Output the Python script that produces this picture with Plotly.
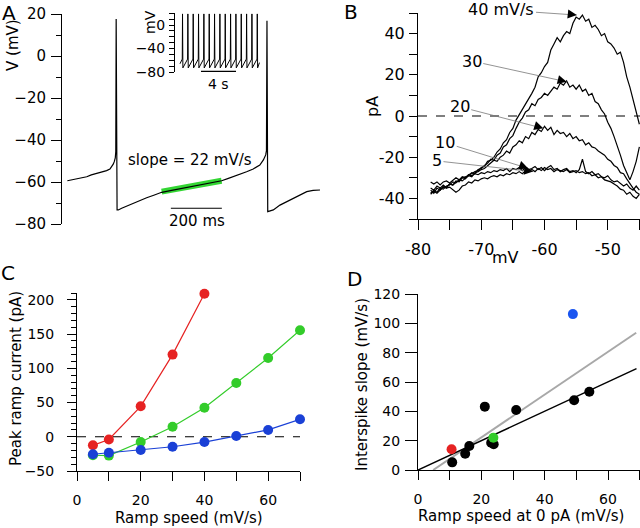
import plotly.graph_objects as go

W, H = 640, 528
FONT = "DejaVu Sans"


def px(x):
    return x / W


def py(y):
    return 1 - y / H


# ---------------- Panel A: membrane potential (ms, mV) ----------------
a_t = [21, 40, 58, 75, 97, 115, 136, 155, 175, 188, 195, 201, 205, 209, 211, 212.5, 216,
       221, 234, 255, 280, 305, 332, 360, 391, 430, 470, 510, 550, 590, 626, 650, 672,
       700, 724, 750, 776, 790, 799, 802, 804, 807, 812, 829, 855, 880, 907, 935, 960,
       985, 1012]
a_v = [-59.4, -58.9, -58.2, -58.0, -57.5, -56.6, -55.9, -55.5, -54.6, -53.8, -52.7, -51.5,
       -50.3, -48.5, -45.5, 17.6, -73.3,
       -73.3, -72.5, -71.4, -70.1, -68.9, -67.5, -66.3, -64.9, -64.0, -63.0, -62.1, -61.2,
       -60.3, -59.4, -58.4, -57.5,
       -56.4, -55.1, -53.8, -51.9, -49.5, -47.1, -45.0, 16.8, -74.1, -74.0, -73.3, -71.0,
       -69.5, -67.8, -66.0, -64.6,
       -64.0, -63.8]
a_fit_t = [391, 626]
a_fit_v = [-64.6, -59.4]
a_bar_t = [427, 627]          # 200 ms scale bar
a_bar_v = [-72.5, -72.5]

# inset: long recording (s, mV)
inset_spike_t = [0.86, 1.47, 2.08, 2.69, 3.30, 3.91, 4.52, 5.13, 5.74, 6.35, 6.96, 7.57,
                 8.18, 8.79, 9.40]
inset_start = (0.57, -66.0)
inset_end = (9.65, -64.0)
inset_pre, inset_peak, inset_trough = -58.0, 19.0, -73.0
inset_bar_t = [2.97, 6.97]    # 4 s scale bar
inset_bar_v = [-79, -79]

ins_t = [inset_start[0]]
ins_v = [inset_start[1]]
for ts in inset_spike_t:
    ins_t += [ts - 0.03, ts, ts + 0.04]
    ins_v += [inset_pre, inset_peak, inset_trough]
ins_t.append(inset_end[0])
ins_v.append(inset_end[1])

# ---------------- Panel B: ramp currents (mV, pA) ----------------
b_mv = [-78 + 0.5 * i for i in range(67)]
b_40 = [-37.5, -36, -37, -35, -35.5, -34, -33.5, -32, -32.5, -31, -30, -30.5, -28.5, -28,
        -27, -26.5, -25, -24.5, -22, -21.5, -20, -17.5, -16, -13, -11.5, -8, -6, -2, 0.5,
        3, 6, 8, 11, 14, 19, 21, 24, 26, 32, 35, 38, 36, 39, 41, 40, 45, 48, 47, 49, 46,
        47, 43, 44, 42, 39, 40, 36, 35, 33, 30, 31, 26, 19, 14, 8, 2, -4]
b_30 = [-36, -37.5, -35, -36, -34, -34.5, -33, -33.5, -31.5, -32, -30, -29.5, -29, -27.5,
        -28, -26, -25.5, -24, -23, -21, -21.5, -19, -18, -15, -14, -11, -9.5, -6, -3, -1,
        2, 3, 6, 5, 8, 9, 11, 10, 12, 14, 13, 16, 15, 17, 14, 15, 13, 15, 12, 13, 10, 11,
        7, 6, 3, 1, -3, -6, -10, -14, -19, -24, -28, -31, -27, -22, -15]
b_20 = [-38, -36.5, -37.5, -36, -34.5, -35, -33, -33.5, -32, -31, -31.5, -30, -29, -29.5,
        -27.5, -27, -26, -25.5, -24, -23, -21.5, -22, -20, -19, -17, -18, -15, -14, -12,
        -13, -10, -11, -8, -9, -6.5, -7.5, -5, -7, -5.5, -9, -7, -8.5, -8, -10, -8.5, -11,
        -10, -12, -11.5, -14, -13, -15, -15.5, -17, -18, -19, -21, -22, -24, -25, -27.5,
        -28, -30.5, -33, -35, -37, -38]
b_10 = [-32, -33, -32, -33.5, -32, -31.5, -32.5, -31, -30, -31, -29.5, -30, -28.5, -29,
        -28, -28.5, -27.5, -28, -27, -27.5, -26.5, -27, -26, -26.5, -25.5, -27, -25.5, -26,
        -25, -26.5, -25, -26, -25.5, -24.5, -26, -25, -26.5, -25, -24, -26, -25.5, -27,
        -26, -25.5, -27, -26.5, -27.5, -26, -21, -27, -28, -27, -28.5, -28, -29.5, -30,
        -29, -31, -32, -31.5, -33, -34, -33, -35, -36, -34, -36]
b_5 = [-35, -36, -34, -35, -33.5, -35, -34.5, -36, -37, -36, -34, -33.5, -32, -32.5, -31,
       -31.5, -30.5, -30, -30.5, -29.5, -29, -29.5, -28.5, -29, -28, -28.5, -27.5, -28,
       -27, -28, -26.5, -27, -26, -27, -25.5, -26.5, -25, -26, -25.5, -27, -26, -26.5, -27,
       -26, -27.5, -27, -26.5, -27.5, -27, -28, -27.5, -29, -28.5, -30, -29.5, -31, -31.5,
       -32, -33, -34, -35.5, -36, -38, -37, -39, -40, -38]
b_traces = [b_40, b_30, b_20, b_10, b_5]

# ---------------- Panel C: peak ramp current vs ramp speed ----------------
c_speed_red = [5, 10, 20, 30, 40]
c_red = [-12.5, -4, 44.5, 120, 209]
c_speed = [5, 10, 20, 30, 40, 50, 60, 70]
c_green = [-27, -27.5, -7.7, 14.6, 42.5, 78.5, 115, 155.5]
c_blue = [-25.5, -23.3, -19.4, -14.6, -7.7, 1, 10, 25.5]

# ---------------- Panel D: interspike slope vs ramp speed at 0 pA ----------------
d_black_x = [10.8, 14.9, 16.2, 21.1, 23.1, 23.9, 31.0, 49.3, 54.1]
d_black_y = [5.2, 11.1, 16.4, 43.2, 18.6, 17.5, 40.9, 47.5, 53.4]
d_red_x, d_red_y = [10.6], [14.1]
d_green_x, d_green_y = [23.8], [22.0]
d_blue_x, d_blue_y = [48.9], [106.3]
d_fit_black_x, d_fit_black_y = [0, 69], [0, 69.1]
d_fit_gray_x, d_fit_gray_y = [4.8, 68.9], [0, 93.6]

RED = "#e62222"
GREEN = "#33cc2a"
BLUE = "#1a40d6"
BLUE_D = "#1a55f0"

fig = go.Figure()

# Panel A
fig.add_trace(go.Scatter(x=a_fit_t, y=a_fit_v, mode="lines",
                         line=dict(color="#33d633", width=6), xaxis="x", yaxis="y"))
fig.add_trace(go.Scatter(x=a_t, y=a_v, mode="lines",
                         line=dict(color="black", width=1.2), xaxis="x", yaxis="y"))
fig.add_trace(go.Scatter(x=a_bar_t, y=a_bar_v, mode="lines",
                         line=dict(color="black", width=1.2), xaxis="x", yaxis="y"))
fig.add_trace(go.Scatter(x=ins_t, y=ins_v, mode="lines",
                         line=dict(color="black", width=1), xaxis="x5", yaxis="y5"))
fig.add_trace(go.Scatter(x=inset_bar_t, y=inset_bar_v, mode="lines",
                         line=dict(color="black", width=1.2), xaxis="x5", yaxis="y5"))

# Panel B
fig.add_trace(go.Scatter(x=[-80, -44.9], y=[0, 0], mode="lines",
                         line=dict(color="black", width=1.2, dash="dash"),
                         xaxis="x2", yaxis="y2"))
for tr in b_traces:
    fig.add_trace(go.Scatter(x=b_mv, y=tr, mode="lines",
                             line=dict(color="black", width=1.2),
                             xaxis="x2", yaxis="y2"))

# Panel C
fig.add_trace(go.Scatter(x=[0, 70], y=[0, 0], mode="lines",
                         line=dict(color="black", width=1.2, dash="dash"),
                         xaxis="x3", yaxis="y3"))
for xs, ys, col in [(c_speed_red, c_red, RED), (c_speed, c_green, GREEN),
                    (c_speed, c_blue, BLUE)]:
    fig.add_trace(go.Scatter(x=xs, y=ys, mode="lines+markers",
                             line=dict(color=col, width=1.2),
                             marker=dict(color=col, size=10),
                             cliponaxis=False, xaxis="x3", yaxis="y3"))

# Panel D
fig.add_trace(go.Scatter(x=d_fit_gray_x, y=d_fit_gray_y, mode="lines",
                         line=dict(color="#a8a8a8", width=2), xaxis="x4", yaxis="y4"))
fig.add_trace(go.Scatter(x=d_fit_black_x, y=d_fit_black_y, mode="lines",
                         line=dict(color="black", width=1.5), xaxis="x4", yaxis="y4"))
for xs, ys, col in [(d_black_x, d_black_y, "black"), (d_red_x, d_red_y, RED),
                    (d_green_x, d_green_y, GREEN), (d_blue_x, d_blue_y, BLUE_D)]:
    fig.add_trace(go.Scatter(x=xs, y=ys, mode="markers",
                             marker=dict(color=col, size=10),
                             cliponaxis=False, xaxis="x4", yaxis="y4"))


def ax(**kw):
    base = dict(showgrid=False, zeroline=False, showline=True, linecolor="black",
                linewidth=1, ticks="outside", tickcolor="black", tickwidth=1,
                automargin=False,
                tickfont=dict(family=FONT, size=14, color="black"))
    base.update(kw)
    return base


def ticktext(vals, labelled):
    return [str(v) if v in labelled else "" for v in vals]


b_xt = [-80, -75, -70, -65, -60, -55, -50, -45]
b_yt = [-50, -40, -30, -20, -10, 0, 10, 20, 30, 40, 50]
c_xt = [0, 10, 20, 30, 40, 50, 60, 70]
d_xt = [0, 10, 20, 30, 40, 50, 60, 70]

fig.update_layout(
    width=W, height=H, margin=dict(l=0, r=0, t=0, b=0, autoexpand=False),
    paper_bgcolor="white", plot_bgcolor="white", showlegend=False,
    font=dict(family=FONT, color="black"),
    # A
    xaxis=dict(domain=[px(62), px(320)], range=[0, 1012], visible=False, automargin=False),
    yaxis=dict(**ax(domain=[py(224), py(14)], range=[-80, 20], dtick=20, tick0=0,
                    ticklen=10, ticklabelstandoff=2,
                    tickfont=dict(family=FONT, size=15, color="black"),
                    minor=dict(dtick=10, tick0=0, ticklen=5, ticks="outside",
                               tickcolor="black", showgrid=False)),
               anchor="x"),
    # inset
    xaxis5=dict(domain=[px(175), px(262)], range=[0, 9.94], visible=False, anchor="y5",
                automargin=False),
    yaxis5=dict(**ax(domain=[py(72), py(13.3)], range=[-80, 20], dtick=40, tick0=0,
                     ticklen=5, ticklabelstandoff=1,
                     tickfont=dict(family=FONT, size=14, color="black"),
                     minor=dict(dtick=10, tick0=0, ticklen=5, ticks="outside",
                                tickcolor="black", showgrid=False)),
                anchor="x5"),
    # B
    xaxis2=dict(**ax(domain=[px(418), px(640)], range=[-80, -44.9], tickmode="array",
                     tickvals=b_xt, ticktext=ticktext(b_xt, [-80, -70, -60, -50]),
                     ticklen=10, ticklabelstandoff=6,
                     tickfont=dict(family=FONT, size=16, color="black")),
                anchor="y2"),
    yaxis2=dict(**ax(domain=[py(219), py(13)], range=[-50, 50], tickmode="array",
                     tickvals=b_yt, ticktext=ticktext(b_yt, [-40, -20, 0, 20, 40]),
                     ticklen=8, ticklabelstandoff=1,
                     tickfont=dict(family=FONT, size=16, color="black")),
                anchor="x2"),
    # C
    xaxis3=dict(**ax(domain=[px(77), px(300)], range=[0, 70], tickmode="array",
                     tickvals=c_xt, ticktext=ticktext(c_xt, [0, 20, 40, 60]),
                     ticklen=9, ticklabelstandoff=7),
                anchor="y3"),
    yaxis3=dict(**ax(domain=[py(471), py(293)], range=[-50, 210], dtick=50, tick0=0,
                     ticklen=9, ticklabelstandoff=10,
                     minor=dict(dtick=10, tick0=0, ticklen=5, ticks="outside",
                                tickcolor="black", showgrid=False)),
                anchor="x3"),
    # D
    xaxis4=dict(**ax(domain=[px(418), px(640)], range=[0, 70.1], tickmode="array",
                     tickvals=d_xt, ticktext=ticktext(d_xt, [0, 20, 40, 60]),
                     ticklen=9, ticklabelstandoff=7),
                anchor="y4"),
    yaxis4=dict(**ax(domain=[py(470), py(294)], range=[0, 120], dtick=20, tick0=0,
                     ticklen=12, ticklabelstandoff=2),
                anchor="x4"),
)

anns = []


def txt(x, y, s, size=15, angle=0):
    anns.append(dict(x=px(x), y=py(y), xref="paper", yref="paper", text=s,
                     showarrow=False, textangle=angle, xanchor="center",
                     yanchor="middle", font=dict(family=FONT, size=size, color="black")))


txt(9, 13, "A", 20)
txt(351, 12, "B", 20)
txt(8, 273, "C", 20)
txt(354, 279, "D", 20)
txt(13, 45, "V (mV)", 15, -90)
txt(190, 160, "slope = 22 mV/s", 15)
txt(197, 221, "200 ms", 15)
txt(218, 84, "4 s", 14)
txt(150, 22, "mV", 14, -90)
txt(372, 107, "pA", 16, -90)
txt(505, 257, "mV", 16)
txt(16, 379, "Peak ramp current (pA)", 15, -90)
txt(189, 518, "Ramp speed (mV/s)", 15)
txt(362, 385, "Interspike slope (mV/s)", 15, -90)
txt(521, 516, "Ramp speed at 0 pA (mV/s)", 15)

# B labels with arrows: (label, text pos, tip pos, head offset px)
b_labels = [
    ("40 mV/s", (-66.8, 51.5), (-54.9, 49.0), (-9.9, -1.1)),
    ("30", (-71.5, 26.7), (-56.5, 16.6), (-9.7, -2.4)),
    ("20", (-73.4, 4.5), (-60.2, -6.0), (-9.5, -3.0)),
    ("10", (-75.7, -13.0), (-62.6, -25.4), (-9.4, -3.4)),
    ("5", (-77.0, -21.8), (-61.8, -27.0), (-9.9, -1.4)),
]
for lab, (tx, ty), (hx, hy), (ox, oy) in b_labels:
    anns.append(dict(x=hx, y=hy, ax=tx, ay=ty, xref="x2", yref="y2", axref="x2",
                     ayref="y2", text=lab, showarrow=True, arrowhead=0,
                     arrowcolor="#777777", arrowwidth=0.8,
                     font=dict(family=FONT, size=16, color="black")))
    anns.append(dict(x=hx, y=hy, ax=ox, ay=oy, xref="x2", yref="y2", text="",
                     showarrow=True, arrowhead=2, arrowsize=1.8, arrowwidth=1,
                     arrowcolor="black"))

fig.update_layout(annotations=anns)
fig.write_html("out.html", config={"displayModeBar": False},
               post_script="document.body.style.margin='0px';"
                           "document.body.style.overflow='hidden';")
